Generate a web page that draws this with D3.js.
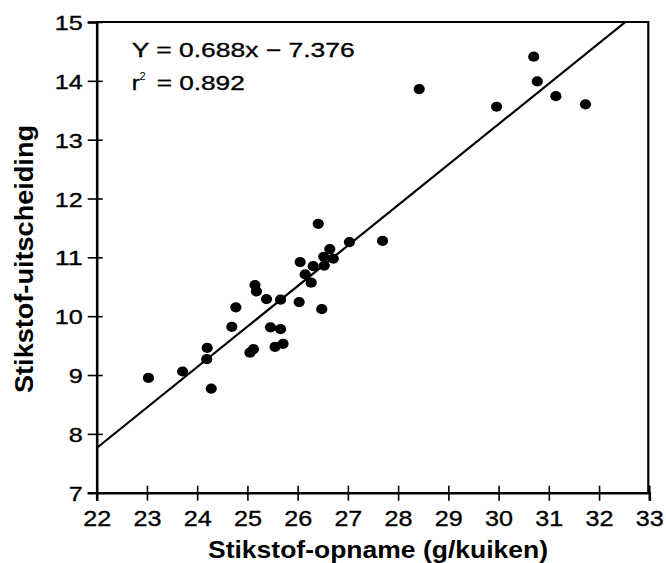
<!DOCTYPE html>
<html>
<head>
<meta charset="utf-8">
<script src="https://cdn.jsdelivr.net/npm/d3@7/dist/d3.min.js"></script>
<style>
  html, body { margin: 0; padding: 0; background: #fff; }
  svg { display: block; font-family: "Liberation Sans", Arial, Helvetica, sans-serif; }
  .lbl { stroke: #000; stroke-width: 0.35px; }
</style>
</head>
<body>
<svg id="chart" width="666" height="563"></svg>
<script>
// Nitrogen intake (g per chick) vs. nitrogen excretion, one dot per observation
const opname = [23.03, 23.71, 24.19, 24.20, 24.28, 24.69, 24.77, 25.05, 25.12, 25.15,
                25.18, 25.38, 25.46, 25.66, 25.55, 25.71, 25.66, 26.03, 26.48, 26.27,
                26.41, 27.03, 26.64, 26.52, 26.71, 26.05, 26.31, 26.53, 26.15, 27.69,
                28.42, 30.70, 30.77, 29.96, 31.14, 31.73];
const uitscheiding = [8.95, 9.06, 9.27, 9.46, 8.77, 9.82, 10.15, 9.38, 9.44, 10.53,
                      10.42, 10.29, 9.81, 9.78, 9.48, 9.53, 10.28, 10.24, 10.12, 10.57,
                      11.57, 11.26, 11.14, 11.01, 10.98, 10.92, 10.85, 10.86, 10.71, 11.28,
                      13.86, 14.41, 13.99, 13.56, 13.74, 13.60];

// Fitted regression line
const slope = 0.688;
const intercept = -7.376;
const r2 = 0.892;

const xTicks = [22, 23, 24, 25, 26, 27, 28, 29, 30, 31, 32, 33];
const yTicks = [7, 8, 9, 10, 11, 12, 13, 14, 15];
const xTitle = "Stikstof-opname (g/kuiken)";
const yTitle = "Stikstof-uitscheiding";

(function () {
  const svg = d3.select("#chart");
  const pLeft = 96.7, pRight = 649.3, pTop = 22, pBottom = 492.7;

  const x = d3.scaleLinear().domain([22, 33]).range([pLeft, pRight]);
  const y = d3.scaleLinear().domain([7, 15]).range([pBottom, pTop]);

  // frame (top and right sides)
  svg.append("path")
    .attr("d", `M${pLeft},${pTop}H${pRight - 1}V${pBottom}`)
    .attr("fill", "none").attr("stroke", "#000").attr("stroke-width", 2.2);

  // clipped regression line
  svg.append("clipPath").attr("id", "plotclip")
    .append("rect").attr("x", pLeft).attr("y", pTop)
    .attr("width", pRight - pLeft).attr("height", pBottom - pTop);

  const fit = v => slope * v + intercept;
  svg.append("line")
    .attr("clip-path", "url(#plotclip)")
    .attr("x1", x(22)).attr("y1", y(fit(22)))
    .attr("x2", x(33)).attr("y2", y(fit(33)))
    .attr("stroke", "#000").attr("stroke-width", 2.2);

  // dots
  svg.append("g").selectAll("ellipse")
    .data(opname.map((v, i) => [v, uitscheiding[i]]))
    .join("ellipse")
    .attr("cx", d => x(d[0])).attr("cy", d => y(d[1]))
    .attr("rx", 5.6).attr("ry", 5.1)
    .attr("fill", "#000");

  // bottom axis with ticks crossing the line
  const gx = svg.append("g").attr("transform", `translate(0,${pBottom})`)
    .call(d3.axisBottom(x).tickValues(xTicks).tickFormat(d3.format("d")).tickSizeOuter(0).tickSize(8));
  gx.select(".domain").attr("stroke-width", 2.6);
  gx.selectAll(".tick line").attr("y1", -7).attr("y2", 8).attr("stroke-width", 1.6);
  gx.selectAll(".tick text")
    .attr("class", "lbl")
    .attr("y", 33).attr("dy", 0)
    .attr("font-size", 22).attr("font-family", "Liberation Sans, Arial, sans-serif")
    .attr("textLength", 28).attr("lengthAdjust", "spacingAndGlyphs");

  // left axis
  const gy = svg.append("g").attr("transform", `translate(${pLeft},0)`)
    .call(d3.axisLeft(y).tickValues(yTicks).tickFormat(d3.format("d")).tickSizeOuter(0).tickSize(9));
  gy.select(".domain").attr("stroke-width", 2.6);
  gy.selectAll(".tick line").attr("x1", 6).attr("x2", -9).attr("stroke-width", 1.6);
  gy.selectAll(".tick text")
    .attr("class", "lbl")
    .attr("x", -14).attr("dy", "0.36em")
    .attr("font-size", 21).attr("font-family", "Liberation Sans, Arial, sans-serif")
    .attr("textLength", d => String(d).length * 14).attr("lengthAdjust", "spacingAndGlyphs");

  // regression equation
  svg.append("text").attr("class", "lbl")
    .attr("x", 131.7).attr("y", 57.3)
    .attr("font-size", 20.5)
    .attr("textLength", 223).attr("lengthAdjust", "spacingAndGlyphs")
    .text(`Y = ${slope.toFixed(3)}x \u2212 ${Math.abs(intercept).toFixed(3)}`);

  svg.append("text").attr("class", "lbl").attr("x", 131.7).attr("y", 90).attr("font-size", 20.5)
    .attr("textLength", 8).attr("lengthAdjust", "spacingAndGlyphs").text("r");
  svg.append("text").attr("x", 139.5).attr("y", 80).attr("font-size", 11).text("2");
  svg.append("text").attr("class", "lbl").attr("x", 156.7).attr("y", 90).attr("font-size", 20.5)
    .attr("textLength", 88).attr("lengthAdjust", "spacingAndGlyphs")
    .text(`= ${r2.toFixed(3)}`);

  // axis titles
  svg.append("text")
    .attr("x", 208).attr("y", 557.5)
    .attr("font-size", 24).attr("font-weight", "bold")
    .attr("textLength", 340).attr("lengthAdjust", "spacingAndGlyphs")
    .text(xTitle);

  svg.append("text")
    .attr("transform", "translate(32.5,259) rotate(-90)")
    .attr("text-anchor", "middle")
    .attr("font-size", 26).attr("font-weight", "bold")
    .attr("textLength", 268).attr("lengthAdjust", "spacingAndGlyphs")
    .text(yTitle);
})();
</script>
</body>
</html>
